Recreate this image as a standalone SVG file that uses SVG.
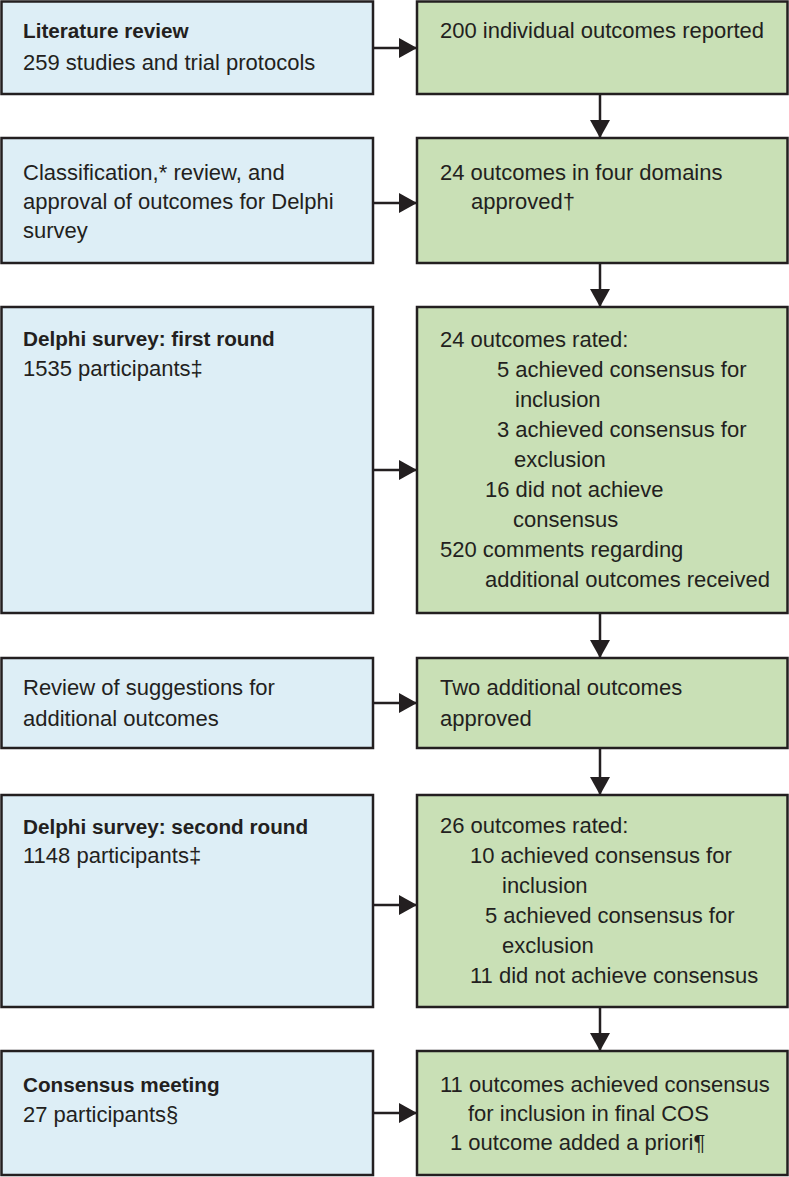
<svg xmlns="http://www.w3.org/2000/svg" width="789" height="1177" viewBox="0 0 789 1177">
<style>
.box{stroke:#231f20;stroke-width:2.5}
.blue{fill:#ddeef6}
.green{fill:#c9e0b6}
text{font-family:"Liberation Sans",Arial,sans-serif;font-size:22px;fill:#231f20}
.b{font-weight:bold;font-size:20.7px}
.conn{stroke:#231f20;stroke-width:2.5;fill:none}
</style>
<defs>
<marker id="ah" markerUnits="userSpaceOnUse" markerWidth="18" markerHeight="20" refX="18" refY="10" orient="auto">
<path d="M0,0 L18,10 L0,20 z" fill="#231f20"/>
</marker>
</defs>
<g id="connectors">
<line class="conn" x1="373" y1="48" x2="417" y2="48" marker-end="url(#ah)"/>
<line class="conn" x1="373" y1="203" x2="417" y2="203" marker-end="url(#ah)"/>
<line class="conn" x1="373" y1="470" x2="417" y2="470" marker-end="url(#ah)"/>
<line class="conn" x1="373" y1="703" x2="417" y2="703" marker-end="url(#ah)"/>
<line class="conn" x1="373" y1="905" x2="417" y2="905" marker-end="url(#ah)"/>
<line class="conn" x1="373" y1="1113" x2="417" y2="1113" marker-end="url(#ah)"/>
<line class="conn" x1="600" y1="94" x2="600" y2="138" marker-end="url(#ah)"/>
<line class="conn" x1="600" y1="263" x2="600" y2="307" marker-end="url(#ah)"/>
<line class="conn" x1="600" y1="613" x2="600" y2="658" marker-end="url(#ah)"/>
<line class="conn" x1="600" y1="748" x2="600" y2="795" marker-end="url(#ah)"/>
<line class="conn" x1="600" y1="1007" x2="600" y2="1051" marker-end="url(#ah)"/>
</g>
<g id="lit-review">
<rect class="box blue" x="1.5" y="1.5" width="371.5" height="92.5"/>
<text x="23" y="38" class="b">Literature review</text>
<text x="23" y="70">259 studies and trial protocols</text>
</g>
<g id="outcomes-reported">
<rect class="box green" x="417" y="1.5" width="370.5" height="92.5"/>
<text x="440" y="38">200 individual outcomes reported</text>
</g>
<g id="classification">
<rect class="box blue" x="1.5" y="138" width="371.5" height="125"/>
<text x="23" y="180">Classification,* review, and</text>
<text x="23" y="209">approval of outcomes for Delphi</text>
<text x="23" y="238">survey</text>
</g>
<g id="approved">
<rect class="box green" x="417" y="138" width="370.5" height="125"/>
<text x="440" y="180">24 outcomes in four domains</text>
<text x="471" y="209">approved†</text>
</g>
<g id="delphi-1">
<rect class="box blue" x="1.5" y="307" width="371.5" height="306"/>
<text x="23" y="346" class="b">Delphi survey: first round</text>
<text x="23" y="376">1535 participants‡</text>
</g>
<g id="rated-1">
<rect class="box green" x="417" y="307" width="370.5" height="306"/>
<text x="440" y="347">24 outcomes rated:</text>
<text x="497" y="377">5 achieved consensus for</text>
<text x="515" y="407">inclusion</text>
<text x="497" y="437">3 achieved consensus for</text>
<text x="514" y="467">exclusion</text>
<text x="485" y="497">16 did not achieve</text>
<text x="513" y="527">consensus</text>
<text x="440" y="557">520 comments regarding</text>
<text x="485" y="587">additional outcomes received</text>
</g>
<g id="review-suggestions">
<rect class="box blue" x="1.5" y="658" width="371.5" height="90"/>
<text x="23" y="695">Review of suggestions for</text>
<text x="23" y="726">additional outcomes</text>
</g>
<g id="two-additional">
<rect class="box green" x="417" y="658" width="370.5" height="90"/>
<text x="440" y="695">Two additional outcomes</text>
<text x="440" y="726">approved</text>
</g>
<g id="delphi-2">
<rect class="box blue" x="1.5" y="795" width="371.5" height="212"/>
<text x="23" y="834" class="b">Delphi survey: second round</text>
<text x="23" y="863">1148 participants‡</text>
</g>
<g id="rated-2">
<rect class="box green" x="417" y="795" width="370.5" height="212"/>
<text x="440" y="833">26 outcomes rated:</text>
<text x="470" y="863">10 achieved consensus for</text>
<text x="502" y="893">inclusion</text>
<text x="485" y="923">5 achieved consensus for</text>
<text x="502" y="953">exclusion</text>
<text x="470" y="983">11 did not achieve consensus</text>
</g>
<g id="consensus-meeting">
<rect class="box blue" x="1.5" y="1051" width="371.5" height="124"/>
<text x="23" y="1092" class="b">Consensus meeting</text>
<text x="23" y="1122">27 participants§</text>
</g>
<g id="final-cos">
<rect class="box green" x="417" y="1051" width="370.5" height="124"/>
<text x="440" y="1092">11 outcomes achieved consensus</text>
<text x="468" y="1121">for inclusion in final COS</text>
<text x="450" y="1150">1 outcome added a priori¶</text>
</g>
</svg>
